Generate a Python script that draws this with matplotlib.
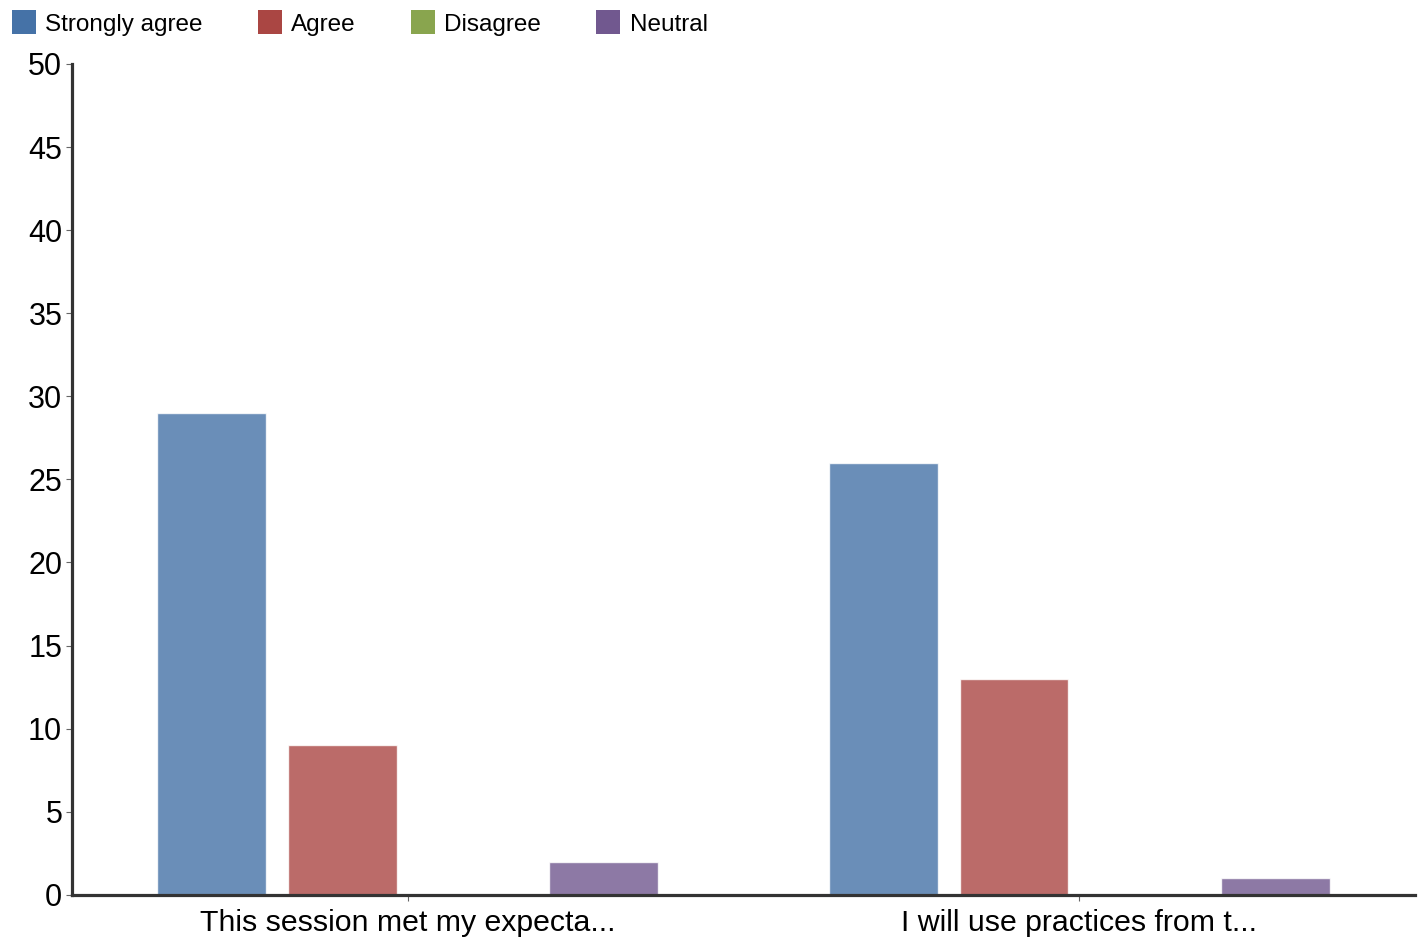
import numpy as np
import matplotlib
matplotlib.use("Agg")
import matplotlib.pyplot as plt

# Data
categories = ["This session met my expecta...", "I will use practices from t..."]
series = ["Strongly agree", "Agree", "Disagree", "Neutral"]
strongly_agree = [29, 26]
agree = [9, 13]
disagree = [0, 0]
neutral = [2, 1]
values = [strongly_agree, agree, disagree, neutral]
colors = ["#4572A7", "#AA4643", "#89A54E", "#71588F"]

plt.rcParams['font.family'] = ['Liberation Sans', 'DejaVu Sans']

fig = plt.figure(figsize=(14.25, 9.4), dpi=100)
ax = fig.add_axes([0.0505, 0.048, 0.9425, 0.884])

x = np.arange(len(categories))
step = 0.1945
width = 0.162
for i, (name, vals, col) in enumerate(zip(series, values, colors)):
    offset = (i - 1.5) * step
    ax.bar(x + offset, vals, width, color=col, alpha=0.8,
           edgecolor="white", linewidth=1, label=name)

ax.set_xlim(-0.5, 1.5)
ax.set_ylim(0, 50)
ax.set_yticks(np.arange(0, 51, 5))
ax.set_xticks(x)
ax.set_xticklabels(categories)

for side in ["top", "right"]:
    ax.spines[side].set_visible(False)
for side in ["left", "bottom"]:
    ax.spines[side].set_linewidth(2.3)
    ax.spines[side].set_color("#333333")

ax.tick_params(axis="y", labelsize=22, length=4, width=0.8, color="#666666",
               pad=3, labelcolor="black")
ax.tick_params(axis="x", labelsize=21.8, length=4, width=0.8, color="#666666",
               pad=6, labelcolor="black")

# Legend along the top
leg = fig.legend(loc="upper left", bbox_to_anchor=(0.0084, 0.989),
                 ncol=4, frameon=False, fontsize=17.5, borderpad=0, borderaxespad=0,
                 handlelength=0.97, handleheight=1.15, handletextpad=0.4,
                 columnspacing=2.27)
for p in leg.get_patches():
    p.set_alpha(1)
    p.set_edgecolor("none")

fig.savefig("out.png", dpi=100)
